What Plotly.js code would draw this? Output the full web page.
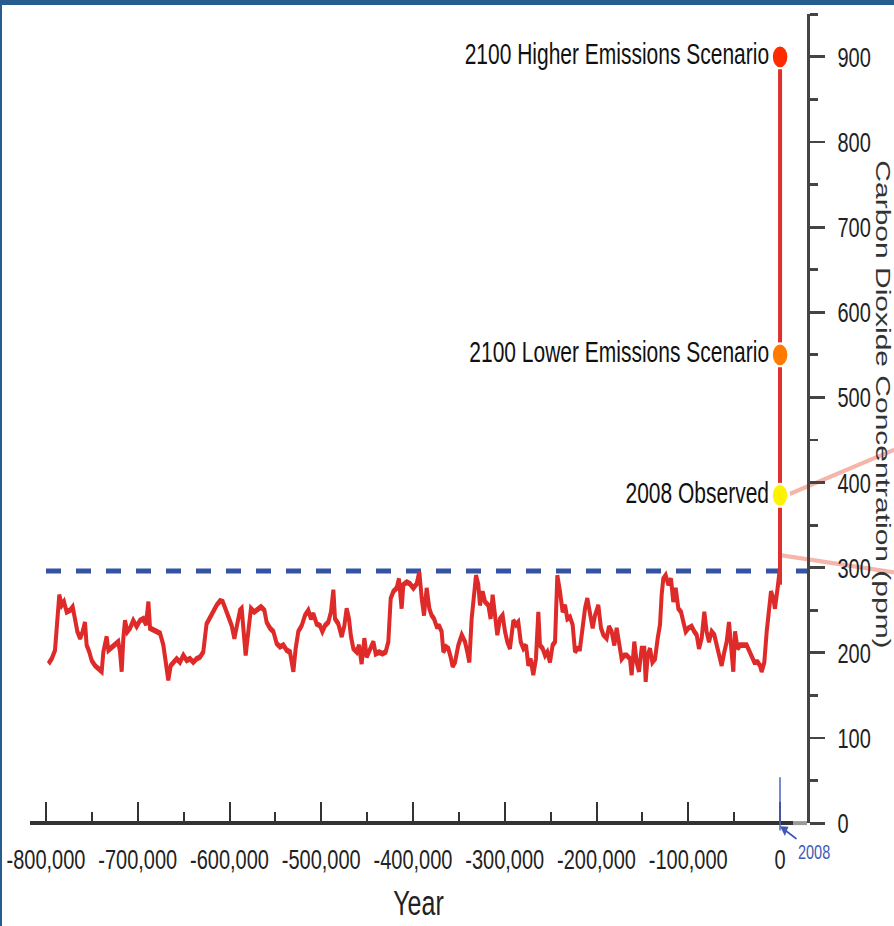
<!DOCTYPE html>
<html><head><meta charset="utf-8">
<script src="https://cdn.plot.ly/plotly-3.0.1.min.js"></script>
<style>
html,body{margin:0;padding:0;background:#fff;overflow:hidden;width:894px;height:926px}
#stage{position:absolute;left:0;top:0;width:894px;height:648px;transform:scale(1,1.42901);transform-origin:0 0}
#bt{position:absolute;left:0;top:0;width:894px;height:5px;background:#285c8f}
#bl{position:absolute;left:0;top:0;width:2px;height:926px;background:#285c8f}
</style></head><body>
<div id="stage"><div id="chart" style="width:894px;height:648px"></div></div>
<div id="bt"></div><div id="bl"></div>
<script>
// ---- data (year relative to present, CO2 in ppm) ----
const iceCoreYears = [-797400,-793800,-790200,-788400,-786500,-785500,-782900,-780400,-777500,-773800,-770900,-768400,-765800,-762900,-760000,-757500,-755700,-752800,-750200,-746600,-743000,-739300,-737500,-735700,-733900,-732000,-728400,-724800,-721200,-719300,-717500,-715700,-713900,-711300,-708400,-704900,-701200,-697500,-693900,-691000,-688400,-686600,-683000,-679400,-675700,-672100,-669200,-666700,-664100,-661200,-657600,-654000,-650300,-646700,-643100,-639500,-635900,-632200,-628600,-625000,-621400,-617600,-614000,-610300,-607400,-604900,-601200,
-597600,-594700,-592200,-588500,-586700,-584900,-582400,-579500,-576600,-573000,-569300,-565700,-562000,-559500,-555900,-552200,-548600,-545000,-541300,-537700,-534100,-530400,-527900,-525000,-521300,-517700,-514100,-511200,-508600,-505000,-501400,-498800,-495900,-492300,-489400,-486800,-485000,-481400,-477700,-474800,-472300,-469800,-467600,-465000,-461400,-458900,-456000,-453000,-450500,-446900,-443200,-440700,-437000,-433400,-429800,-426900,-424300,-421400,-417800,-415300,-412400,-410500,-406900,-403300,
-399600,-396000,-393100,-390500,-388000,-385100,-382200,-379700,-377100,-374200,-371300,-368800,-366900,-364000,-361500,-358900,-356800,-354200,-350600,-346900,-343300,-340800,-338600,-336100,-333500,-331300,-328800,-327000,-324100,-321500,-317900,-315400,-313200,-310600,-308100,-305200,-302300,-299700,-297200,-294300,-290600,-287700,-285200,-282600,-279700,-276800,-274300,-271800,-268900,-266000,-263400,-261600,-258700,-256100,-253600,-250700,-247800,-245200,-242700,-239800,-236900,-234300,-231800,-228900,-226000,-223400,-220900,-218000,-215100,-212500,-210000,-207100,-204200,-201600,
-198000,-195100,-192500,-188900,-186400,-183500,-180600,-178000,-175500,-172600,-169700,-167100,-163500,-161700,-158800,-156200,-153700,-150800,-147900,-146400,-144200,-141700,-139100,-136200,-133300,-130800,-129000,-127200,-124600,-121700,-118800,-116300,-113700,-110800,-107900,-105400,-102800,-99900,-96300,-93400,-90800,-88300,-85400,-82500,-80000,-77400,-74500,-71600,-69000,-66500,-63600,-60700,-58100,-55600,-53400,-50900,-49000,-46200,-43500,-39900,-36300,-33800,-30900,-28000,-24300,-21800,-20000,-17100,-14500,-12000,-9800,-7300,-5500,-2600,-1200,0];
const iceCoreCO2 = [187,193,203,225,252,268,256,260,248,250,254,236,225,217,225,236,209,201,191,185,182,178,201,213,219,203,207,209,213,201,178,217,238,225,229,238,231,238,240,233,260,229,227,225,223,209,185,168,185,189,193,189,197,191,193,189,193,195,201,234,242,250,256,261,260,253,242,
232,217,229,250,252,225,197,225,252,248,252,254,250,236,229,225,211,207,209,203,201,178,205,225,232,244,250,240,246,234,232,225,232,236,248,274,240,234,219,232,252,240,219,205,201,209,187,217,195,205,213,199,201,199,201,213,264,272,276,287,252,280,283,281,
276,281,295,264,244,276,252,244,240,231,231,225,201,207,205,195,184,189,209,221,213,201,189,240,272,291,280,256,272,260,256,240,268,244,221,240,244,225,213,205,238,233,236,213,205,209,185,193,174,193,248,209,205,197,201,189,209,213,291,272,248,256,240,242,233,201,205,205,236,252,264,248,229,244,
256,229,221,217,231,225,209,229,209,193,197,197,193,174,213,189,178,205,205,166,197,205,189,193,217,233,268,287,291,280,287,260,276,252,248,236,225,229,231,225,221,205,217,248,225,213,225,221,209,197,185,201,213,236,201,178,225,205,209,209,209,203,197,189,189,185,178,189,225,256,272,264,252,276,291,300];

// modern rise: pre-industrial -> 2008 observed -> 2100 high scenario
const modernYears = [0, 0, 92];
const modernCO2 = [280, 385, 900];

// labelled points
const pointLabels = ['2008 Observed', '2100 Lower Emissions Scenario', '2100 Higher Emissions Scenario'];
const pointYears = [0, 92, 92];
const pointCO2 = [385, 550, 900];
const pointColors = ['#fff200', '#ff7a00', '#ff2a00'];

// highest level in the ice-core record (dashed reference)
const recordHighCO2 = 296;

// axes
const xTickVals = [-800000,-700000,-600000,-500000,-400000,-300000,-200000,-100000,0];
const xTickText = ['-800,000','-700,000','-600,000','-500,000','-400,000','-300,000','-200,000','-100,000','0'];
const yTickVals = [0,100,200,300,400,500,600,700,800,900];

const xRange = [-817439, 29428];
const yRange = [0, 950];

const FONT = 'Liberation Sans, Arial, Helvetica, sans-serif';

const traces = [
  {x: [xTickVals[0], xRange[1]], y: [recordHighCO2, recordHighCO2], mode: 'lines',
   line: {color: '#3553a5', width: 3.5, dash: '15px,15px'}, hoverinfo: 'skip'},
  {x: iceCoreYears, y: iceCoreCO2, mode: 'lines',
   line: {color: '#df2a2a', width: 4}},
  {x: modernYears, y: modernCO2, mode: 'lines',
   line: {color: '#e0302e', width: 4}},
  {x: pointYears, y: pointCO2, mode: 'markers+text', text: pointLabels,
   textposition: 'middle left',
   textfont: {family: FONT, size: 21, color: '#111'},
   marker: {size: 16, color: pointColors, line: {color: '#ffffff', width: 1.5}},
   cliponaxis: false}
];

const layout = {
  width: 894, height: 648,
  margin: {l: 30, r: 87, t: 10, b: 72},
  paper_bgcolor: '#ffffff', plot_bgcolor: '#ffffff',
  showlegend: false,
  font: {family: FONT, color: '#222'},
  xaxis: {
    range: xRange, tickmode: 'array', tickvals: xTickVals, ticktext: xTickText,
    ticks: 'inside', ticklen: 15, tickwidth: 2, tickcolor: '#333',
    minor: {dtick: 50000, tick0: 0, ticks: 'inside', ticklen: 8, tickwidth: 2, tickcolor: '#333'},
    showline: false, showgrid: false, zeroline: false,
    tickfont: {family: FONT, size: 20, color: '#222'},
    ticklabelstandoff: 11,
    title: {text: 'Year', font: {family: FONT, size: 25, color: '#222'}, standoff: 11},
    fixedrange: true
  },
  yaxis: {
    range: yRange, side: 'right', tickmode: 'array', tickvals: yTickVals,
    ticks: 'outside', ticklen: 15, tickwidth: 2, tickcolor: '#444',
    minor: {dtick: 50, tick0: 0, ticks: 'outside', ticklen: 8, tickwidth: 2, tickcolor: '#444'},
    showline: true, linecolor: '#444', linewidth: 2.5,
    showgrid: false, zeroline: false,
    tickfont: {family: FONT, size: 20, color: '#222'},
    ticklabelstandoff: 9,
    fixedrange: true
  },
  shapes: [
    {type: 'line', xref: 'x', yref: 'paper', x0: xRange[0], x1: 14169, y0: 0, y1: 0,
     line: {color: '#333', width: 2.8}},
    {type: 'line', xref: 'x', yref: 'paper', x0: 14169, x1: xRange[1], y0: 0, y1: 0,
     line: {color: '#9a9a9a', width: 2.8}},
    {type: 'line', xref: 'x', yref: 'paper', x0: 0, x1: 0, y0: -0.009, y1: 0.0566,
     line: {color: '#4a64c0', width: 1.5}},
    {type: 'line', xref: 'paper', yref: 'paper', x0: 0.978, y0: 0.407, x1: 1.112, y1: 0.4616,
     line: {color: '#f5b5ab', width: 3}, layer: 'below'},
    {type: 'line', xref: 'paper', yref: 'paper', x0: 0.9674, y0: 0.331, x1: 1.112, y1: 0.310,
     line: {color: '#f5b5ab', width: 3}, layer: 'below'}
  ],
  annotations: [
    {xref: 'paper', yref: 'paper', x: 1.0975, y: 0.518, xanchor: 'center', yanchor: 'middle',
     textangle: 90, showarrow: false, text: 'Carbon Dioxide Concentration (ppm)',
     font: {family: FONT, size: 21, color: '#333'}},
    {xref: 'x', yref: 'paper', x: 0, y: -0.004, text: '2008', showarrow: true,
     ax: 34, ay: 18, arrowhead: 2, arrowsize: 1, arrowwidth: 1.5, arrowcolor: '#3f59b5', standoff: 0,
     font: {family: FONT, size: 14.5, color: '#3f59b5'}}
  ]
};

Plotly.newPlot('chart', traces, layout, {displayModeBar: false, staticPlot: true});
</script></body></html>
